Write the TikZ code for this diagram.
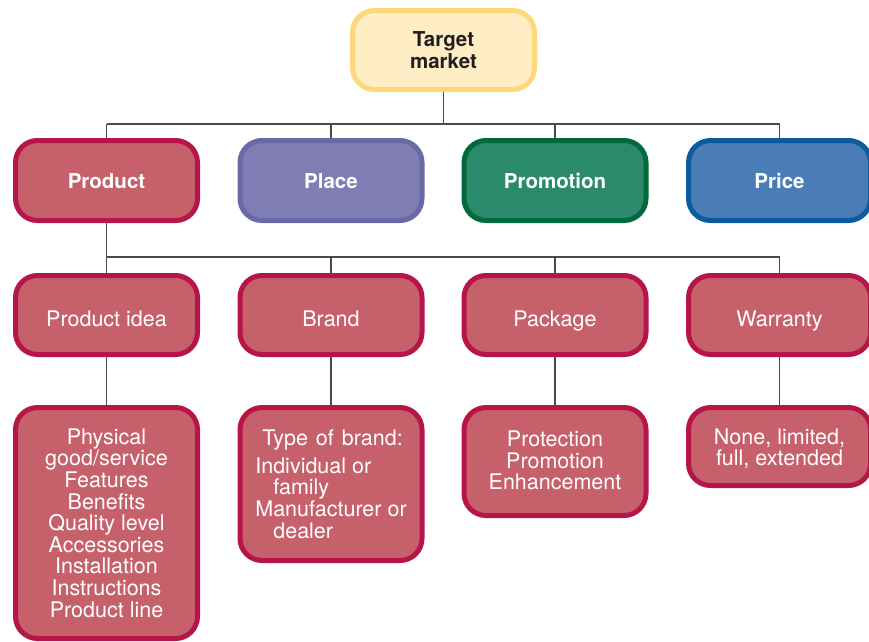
\documentclass[tikz,border=0pt]{standalone}
\usepackage{fontspec}
\setmainfont{TeX Gyre Heros}
\usetikzlibrary{backgrounds}
\definecolor{tmfill}{HTML}{FFEDC6}
\definecolor{tmline}{HTML}{FED67B}
\definecolor{prfill}{HTML}{C6616B}
\definecolor{prline}{HTML}{B61647}
\definecolor{plfill}{HTML}{7F7DB4}
\definecolor{plline}{HTML}{6869A7}
\definecolor{pmfill}{HTML}{2A8A6B}
\definecolor{pmline}{HTML}{006A3C}
\definecolor{pcfill}{HTML}{4A7DB6}
\definecolor{pcline}{HTML}{0B5B9E}
\definecolor{txtdark}{HTML}{231F20}
\definecolor{connc}{HTML}{4A4A4A}
\begin{document}
\begin{tikzpicture}[x=1pt,y=-1pt,
  box/.style={rectangle, rounded corners=22pt, line width=5pt, minimum width=182pt,
    inner sep=0pt, align=center, text=white, font=\fontsize{21.5}{21.6}\selectfont},
  boldbox/.style={box, font=\fontsize{20.5}{21.5}\selectfont\bfseries},
  redbox/.style={box, draw=prline, fill=prfill},
  lvtwo/.style={boldbox, minimum height=80pt, text height=15pt, text depth=0pt},
  lvthree/.style={redbox, minimum height=79pt, text height=22pt, text depth=0pt},
  conn/.style={draw=connc, line width=1.1pt}]
\useasboundingbox (0,0) rectangle (869,641);

% top
\node[boldbox, draw=tmline, fill=tmfill, text=txtdark, minimum height=79pt] (tm) at (443.5,50) {Target\\market};

% level 2
\node[lvtwo, draw=prline, fill=prfill] (prod) at (106.5,180.5) {Product};
\node[lvtwo, draw=plline, fill=plfill] (place) at (331,180.5) {Place};
\node[lvtwo, draw=pmline, fill=pmfill] (promo) at (555,180.5) {Promotion};
\node[lvtwo, draw=pcline, fill=pcfill] (price) at (779.5,180.5) {Price};

% level 3
\node[lvthree] (idea) at (106.5,315) {Product idea};
\node[lvthree] (brand) at (331,315) {Brand};
\node[lvthree] (pack) at (555,315) {Package};
\node[lvthree] (warr) at (779.5,315) {Warranty};

% level 4
\node[redbox, minimum height=231pt] (idealist) at (106.5,523) {Physical\\good/service\\Features\\Benefits\\Quality level\\Accessories\\Installation\\Instructions\\Product line};
\node[redbox, minimum height=153pt, align=left] (brandlist) at (331,484) {\spaceskip=8pt\hspace*{7pt}Type of brand:\\[6.5pt]Individual or\\\hspace*{18pt}family\\Manufacturer or\\\hspace*{18pt}dealer};
\node[redbox, minimum height=108pt] (packlist) at (555,461.5) {Protection\\Promotion\\Enhancement\rule[-2pt]{0pt}{0pt}};
\node[redbox, minimum height=78pt] (warrlist) at (779.5,446.5) {\rule{0pt}{20pt}None, limited,\\full, extended};

\begin{scope}[on background layer]
  \coordinate (j1) at (443.5,124);
  \coordinate (j2) at (106.5,257);
  \draw[conn] (tm.south) -- (j1);
  \draw[conn] (prod.north |- j1) -- (price.north |- j1);
  \foreach \n in {prod,place,promo,price} \draw[conn] (\n.north |- j1) -- (\n.north);
  \draw[conn] (prod.south) -- (j2);
  \draw[conn] (j2) -- (warr.north |- j2);
  \foreach \n in {idea,brand,pack,warr} \draw[conn] (\n.north |- j2) -- (\n.north);
  \draw[conn] (idea.south) -- (idealist.north);
  \draw[conn] (brand.south) -- (brandlist.north);
  \draw[conn] (pack.south) -- (packlist.north);
  \draw[conn] (warr.south) -- (warrlist.north);
\end{scope}
\end{tikzpicture}
\end{document}
